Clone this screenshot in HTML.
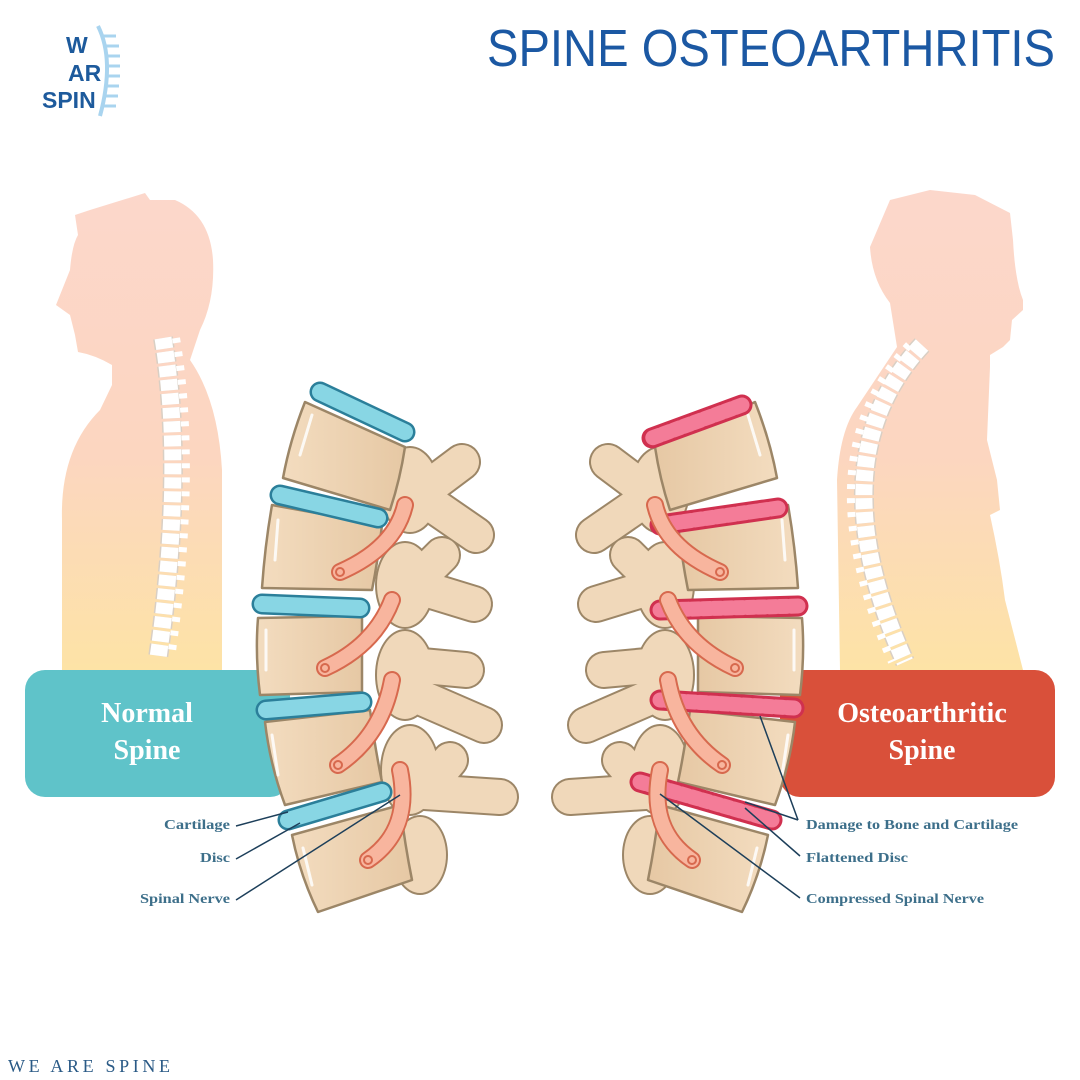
<!DOCTYPE html>
<html><head><meta charset="utf-8"><style>
html,body{margin:0;padding:0;background:#fff;}
svg{display:block;}
</style></head><body>
<svg width="1080" height="1080" viewBox="0 0 1080 1080" xmlns="http://www.w3.org/2000/svg">
<defs>
<linearGradient id="sil" x1="0" y1="0" x2="0" y2="1">
<stop offset="0" stop-color="#fcd7cb"/><stop offset="0.55" stop-color="#fcd6c0"/><stop offset="1" stop-color="#fde3a6"/>
</linearGradient>
<linearGradient id="bone" x1="0" y1="0" x2="1" y2="0">
<stop offset="0" stop-color="#f3dcbf"/><stop offset="1" stop-color="#e6c8a4"/>
</linearGradient>
<g id="procs">
  <g stroke-linecap="round">
    <g stroke="#9c8667" stroke-width="38">
      <line x1="418" y1="495" x2="462" y2="462"/><line x1="418" y1="495" x2="476" y2="535"/>
      <line x1="412" y1="585" x2="474" y2="604"/><line x1="412" y1="585" x2="442" y2="555"/>
      <line x1="412" y1="665" x2="466" y2="670"/><line x1="415" y1="695" x2="484" y2="725"/>
      <line x1="425" y1="792" x2="500" y2="797"/><line x1="425" y1="790" x2="450" y2="760"/>
    </g>
    <g fill="#9c8667">
      <ellipse cx="410" cy="490" rx="30" ry="44"/><ellipse cx="405" cy="585" rx="30" ry="44"/>
      <ellipse cx="405" cy="675" rx="30" ry="46"/><ellipse cx="410" cy="770" rx="30" ry="46"/>
      <ellipse cx="420" cy="855" rx="28" ry="40"/>
    </g>
    <g stroke="#f0d8ba" stroke-width="34">
      <line x1="418" y1="495" x2="462" y2="462"/><line x1="418" y1="495" x2="476" y2="535"/>
      <line x1="412" y1="585" x2="474" y2="604"/><line x1="412" y1="585" x2="442" y2="555"/>
      <line x1="412" y1="665" x2="466" y2="670"/><line x1="415" y1="695" x2="484" y2="725"/>
      <line x1="425" y1="792" x2="500" y2="797"/><line x1="425" y1="790" x2="450" y2="760"/>
    </g>
    <g fill="#f0d8ba">
      <ellipse cx="410" cy="490" rx="28" ry="42"/><ellipse cx="405" cy="585" rx="28" ry="42"/>
      <ellipse cx="405" cy="675" rx="28" ry="44"/><ellipse cx="410" cy="770" rx="28" ry="44"/>
      <ellipse cx="420" cy="855" rx="26" ry="38"/>
    </g>
  </g>
</g>
<g id="bodies">
  <g fill="url(#bone)" stroke="#9c8667" stroke-width="2.5" stroke-linejoin="round">
    <path d="M305,402 L405,447 Q400,480 390,510 L283,478 Q290,440 305,402Z"/>
    <path d="M272,505 L382,525 Q378,560 372,590 L262,588 Q265,545 272,505Z"/>
    <path d="M258,618 L362,616 L362,692 L260,695 Q255,655 258,618Z"/>
    <path d="M265,722 L370,710 Q375,748 382,782 L285,805 Q270,765 265,722Z"/>
    <path d="M292,835 L400,805 Q405,845 412,880 L318,912 Q300,875 292,835Z"/>
  </g>
  <g stroke="#fff" stroke-width="3" stroke-linecap="round" opacity="0.85">
    <line x1="312" y1="415" x2="300" y2="455"/><line x1="278" y1="520" x2="275" y2="560"/>
    <line x1="266" y1="630" x2="266" y2="670"/><line x1="272" y1="735" x2="278" y2="775"/>
    <line x1="303" y1="848" x2="312" y2="885"/>
  </g>
</g>
<g id="nerves" stroke-linecap="round" fill="none">
  <g stroke="#d7694e" stroke-width="18">
    <path d="M405,505 Q395,548 340,572"/><path d="M392,600 Q375,645 325,668"/>
    <path d="M392,680 Q382,735 338,765"/><path d="M400,770 Q412,830 368,860"/>
  </g>
  <g stroke="#f8b59e" stroke-width="14">
    <path d="M405,505 Q395,548 340,572"/><path d="M392,600 Q375,645 325,668"/>
    <path d="M392,680 Q382,735 338,765"/><path d="M400,770 Q412,830 368,860"/>
  </g>
  <g stroke="#d7694e" stroke-width="2">
    <circle cx="340" cy="572" r="4"/><circle cx="325" cy="668" r="4"/>
    <circle cx="338" cy="765" r="4"/><circle cx="368" cy="860" r="4"/>
  </g>
</g>
</defs>

<!-- logo -->
<g font-family="Liberation Sans, sans-serif" font-weight="bold" fill="#1d5a9c" font-size="23">
  <text x="66" y="53">W</text><text x="68" y="81">AR</text><text x="42" y="108">SPIN</text>
</g>
<path d="M98,26 Q115,60 100,116" stroke="#a9d4ef" stroke-width="4" fill="none"/>
<g stroke="#a9d4ef" stroke-width="3">
  <line x1="103" y1="36" x2="116" y2="36"/><line x1="106" y1="46" x2="119" y2="46"/>
  <line x1="107" y1="56" x2="120" y2="56"/><line x1="108" y1="66" x2="120" y2="66"/>
  <line x1="107" y1="76" x2="120" y2="76"/><line x1="106" y1="86" x2="119" y2="86"/>
  <line x1="104" y1="96" x2="118" y2="96"/><line x1="102" y1="106" x2="116" y2="106"/>
</g>

<text x="487" y="66" font-family="Liberation Sans, sans-serif" font-size="52" fill="#1b58a3" textLength="568" lengthAdjust="spacingAndGlyphs">SPINE OSTEOARTHRITIS</text>

<!-- left silhouette -->
<path d="M75,215 L90,210 L145,193 L150,200 L175,200 Q210,215 213,260 Q215,300 200,330 L190,360 Q218,400 222,470 L222,670 L62,670 L62,520 Q60,450 100,410 L112,385 L112,365 Q95,355 78,352 L75,335 L70,315 L56,305 Q62,290 70,270 Q72,245 78,235 Z" fill="url(#sil)"/>
<path d="M163,338 Q185,470 158,658" stroke="#d9cfc4" stroke-width="20" fill="none" stroke-dasharray="11 3"/>
<path d="M163,338 Q185,470 158,658" stroke="#fff" stroke-width="17" fill="none" stroke-dasharray="11 3"/>
<path d="M176,338 Q198,470 171,658" stroke="#fff" stroke-width="8" fill="none" stroke-dasharray="5 9"/>

<!-- right silhouette -->
<path d="M890,200 L930,190 L975,195 L1010,213 L1013,240 Q1015,280 1023,300 L1023,310 L1012,320 L1010,340 L1003,347 L990,355 L990,367 L987,440 L997,480 L1000,510 L990,515 Q1000,560 1005,600 L1023,670 L840,670 L837,480 Q840,430 857,407 L897,347 L890,303 Q872,280 870,247 Z" fill="url(#sil)"/>
<path d="M922,345 Q815,460 905,662" stroke="#d9cfc4" stroke-width="20" fill="none" stroke-dasharray="11 3"/>
<path d="M922,345 Q815,460 905,662" stroke="#fff" stroke-width="17" fill="none" stroke-dasharray="11 3"/>
<path d="M909,345 Q802,460 892,662" stroke="#fff" stroke-width="8" fill="none" stroke-dasharray="5 9"/>

<!-- boxes -->
<rect x="25" y="670" width="265" height="127" rx="20" fill="#5fc3c9"/>
<rect x="780" y="670" width="275" height="127" rx="20" fill="#d9503a"/>
<g font-family="Liberation Serif, serif" font-weight="bold" fill="#fff" font-size="28" text-anchor="middle">
  <text x="147" y="722">Normal</text><text x="147" y="759">Spine</text>
  <text x="922" y="722">Osteoarthritic</text><text x="922" y="759">Spine</text>
</g>

<!-- left spine -->
<use href="#procs"/>
<use href="#bodies"/>
<g stroke-linecap="round">
  <g stroke="#2b7f9a" stroke-width="21">
    <line x1="320" y1="392" x2="405" y2="432"/><line x1="280" y1="495" x2="378" y2="518"/>
    <line x1="262" y1="604" x2="360" y2="608"/><line x1="266" y1="710" x2="362" y2="702"/>
    <line x1="288" y1="820" x2="382" y2="792"/>
  </g>
  <g stroke="#88d6e4" stroke-width="16">
    <line x1="320" y1="392" x2="405" y2="432"/><line x1="280" y1="495" x2="378" y2="518"/>
    <line x1="262" y1="604" x2="360" y2="608"/><line x1="266" y1="710" x2="362" y2="702"/>
    <line x1="288" y1="820" x2="382" y2="792"/>
  </g>
</g>
<use href="#nerves"/>

<!-- right spine -->
<g transform="translate(1060,0) scale(-1,1)">
  <g transform="translate(-10,0)"><use href="#procs"/></g>
  <use href="#bodies"/>
  <g stroke-linecap="round">
    <g stroke="#d0304f" stroke-width="21">
      <line x1="318" y1="405" x2="408" y2="438"/><line x1="282" y1="508" x2="400" y2="525"/>
      <line x1="262" y1="606" x2="400" y2="610"/><line x1="266" y1="708" x2="400" y2="700"/>
      <line x1="288" y1="820" x2="420" y2="782"/>
    </g>
    <g stroke="#f47c98" stroke-width="15" stroke-dasharray="7 4">
      <line x1="318" y1="405" x2="408" y2="438"/><line x1="282" y1="508" x2="400" y2="525"/>
      <line x1="262" y1="606" x2="400" y2="610"/><line x1="266" y1="708" x2="400" y2="700"/>
      <line x1="288" y1="820" x2="420" y2="782"/>
    </g>
  </g>
  <use href="#nerves"/>
</g>

<!-- labels -->
<g stroke="#1d3f5a" stroke-width="1.5">
  <line x1="236" y1="826" x2="288" y2="812"/>
  <line x1="236" y1="859" x2="300" y2="823"/>
  <line x1="236" y1="900" x2="400" y2="795"/>
  <line x1="798" y1="820" x2="760" y2="716"/>
  <line x1="798" y1="820" x2="745" y2="802"/>
  <line x1="800" y1="856" x2="745" y2="808"/>
  <line x1="800" y1="898" x2="660" y2="794"/>
</g>
<g font-family="Liberation Serif, serif" font-weight="bold" fill="#3d6f8a" font-size="14">
  <text x="164" y="829" textLength="66" lengthAdjust="spacingAndGlyphs">Cartilage</text>
  <text x="200" y="862" textLength="30" lengthAdjust="spacingAndGlyphs">Disc</text>
  <text x="140" y="903" textLength="90" lengthAdjust="spacingAndGlyphs">Spinal Nerve</text>
  <text x="806" y="829" textLength="212" lengthAdjust="spacingAndGlyphs">Damage to Bone and Cartilage</text>
  <text x="806" y="862" textLength="102" lengthAdjust="spacingAndGlyphs">Flattened Disc</text>
  <text x="806" y="903" textLength="178" lengthAdjust="spacingAndGlyphs">Compressed Spinal Nerve</text>
</g>

<text x="8" y="1072" font-family="Liberation Serif, serif" font-size="18" fill="#2a5a86" textLength="162" lengthAdjust="spacing">WE ARE SPINE</text>
</svg>
</body></html>
